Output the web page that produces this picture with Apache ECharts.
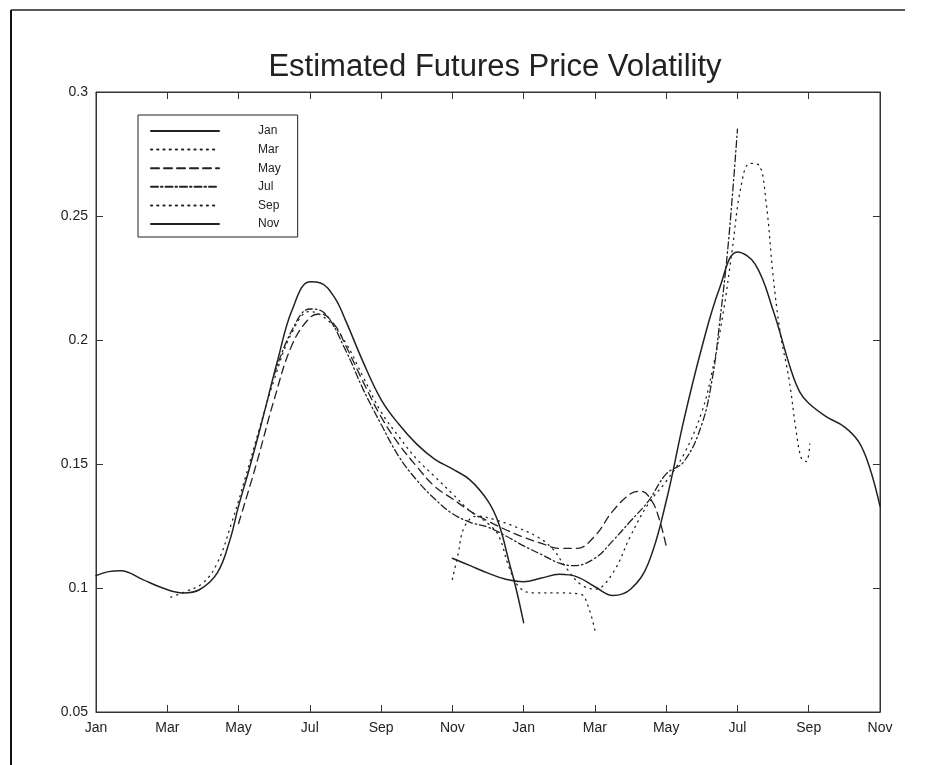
<!DOCTYPE html>
<html>
<head>
<meta charset="utf-8">
<script src="https://cdn.jsdelivr.net/npm/echarts@6/dist/echarts.min.js"></script>
<style>
  html, body { margin: 0; padding: 0; background: #fff; }
  #chart { width: 930px; height: 765px; }
</style>
</head>
<body>
<div id="chart"></div>
<script>
// x = months from the first January, y = estimated volatility
const monthLabels = ['Jan', 'Mar', 'May', 'Jul', 'Sep', 'Nov', 'Jan', 'Mar', 'May', 'Jul', 'Sep', 'Nov']
const contractNames = ['Jan', 'Mar', 'May', 'Jul', 'Sep', 'Nov']

const janVol = [
  [0, 0.105], [0.35, 0.1066], [0.7, 0.107], [1.3, 0.1035], [1.8, 0.1004], [2.45, 0.098],
  [2.9, 0.0993], [3.4, 0.106], [3.75, 0.119], [4, 0.133], [4.3, 0.148], [4.6, 0.164],
  [4.85, 0.178], [5.1, 0.192], [5.5, 0.212], [6, 0.2235], [6.3, 0.223], [6.7, 0.217],
  [7, 0.208], [7.5, 0.191], [8, 0.176], [8.5, 0.166], [9, 0.158], [9.5, 0.152],
  [10, 0.148], [10.5, 0.1435], [11, 0.135], [11.3, 0.126], [11.6, 0.11], [11.8, 0.099], [12, 0.086]
]
const marVol = [
  [2.1, 0.0963], [2.5, 0.0985], [3, 0.102], [3.4, 0.11], [3.8, 0.126], [4.2, 0.145],
  [4.6, 0.165], [5, 0.184], [5.5, 0.203], [6, 0.2115], [6.5, 0.208], [7, 0.199],
  [7.5, 0.185], [8, 0.171], [8.5, 0.161], [9, 0.152], [9.5, 0.145], [10, 0.138],
  [10.5, 0.131], [11, 0.126], [11.3, 0.121], [11.6, 0.108], [11.9, 0.1], [12.3, 0.098],
  [13, 0.098], [13.6, 0.0975], [13.8, 0.093], [14, 0.083]
]
const mayVol = [
  [4, 0.126], [4.5, 0.15], [5, 0.176], [5.5, 0.198], [6, 0.209], [6.3, 0.2105],
  [6.7, 0.206], [7, 0.198], [7.5, 0.183], [8, 0.169], [8.5, 0.158], [9, 0.149],
  [9.5, 0.141], [10, 0.136], [10.5, 0.131], [11, 0.127], [11.5, 0.1235], [12, 0.1205],
  [12.5, 0.118], [13, 0.116], [13.5, 0.116], [14, 0.121], [14.5, 0.131], [15, 0.138],
  [15.3, 0.139], [15.6, 0.135], [15.8, 0.128], [16, 0.117]
]
const julVol = [
  [5, 0.186], [5.5, 0.204], [6, 0.2125], [6.4, 0.211], [7, 0.196], [7.5, 0.18],
  [8, 0.166], [8.5, 0.153], [9, 0.1435], [9.5, 0.136], [10, 0.13], [10.5, 0.1265],
  [11, 0.1245], [11.5, 0.121], [12, 0.117], [12.5, 0.1135], [13, 0.11], [13.4, 0.109],
  [14, 0.112], [14.5, 0.119], [15, 0.127], [15.5, 0.135], [16, 0.146], [16.5, 0.151],
  [17, 0.166], [17.3, 0.185], [17.5, 0.207], [17.75, 0.24], [18, 0.285]
]
const sepVol = [
  [10, 0.1035], [10.15, 0.113], [10.35, 0.125], [10.7, 0.129], [11.2, 0.1275], [11.8, 0.1245],
  [12.4, 0.1205], [12.8, 0.116], [13.2, 0.108], [13.6, 0.1015], [14, 0.0995], [14.5, 0.106],
  [15, 0.121], [15.5, 0.134], [16, 0.143], [16.5, 0.154], [17, 0.171], [17.3, 0.188],
  [17.6, 0.211], [17.85, 0.236], [18.1, 0.262], [18.35, 0.2712], [18.6, 0.2705], [18.8, 0.256],
  [19, 0.226], [19.2, 0.203], [19.45, 0.184], [19.65, 0.163], [19.8, 0.152], [19.93, 0.151], [20.03, 0.158]
]
const novVol = [
  [10, 0.112], [10.5, 0.109], [11, 0.106], [11.5, 0.1035], [12, 0.1025], [12.5, 0.104],
  [13, 0.1055], [13.5, 0.1045], [14, 0.1005], [14.5, 0.097], [15, 0.0995], [15.5, 0.11],
  [16, 0.135], [16.5, 0.168], [17, 0.197], [17.5, 0.221], [18, 0.2355], [18.5, 0.2305],
  [19, 0.212], [19.5, 0.188], [19.75, 0.179], [20, 0.1745], [20.5, 0.169], [21, 0.165],
  [21.4, 0.159], [21.7, 0.149], [22, 0.133]
]

const seriesData = [janVol, marVol, mayVol, julVol, sepVol, novVol]
// line patterns like the old matlab print
const dashes = ['solid', [1.2, 5], [8, 5], [7, 3, 1.5, 3], [1.2, 5], 'solid']

const chart = echarts.init(document.getElementById('chart'))
const fontFam = '"Liberation Sans", Arial, Helvetica, sans-serif'

function axisBase(pos) {
  return {
    type: 'value',
    position: pos,
    axisLine: { show: true, onZero: false, lineStyle: { color: '#333' } },
    axisTick: { show: true, inside: true, length: 7, lineStyle: { color: '#333' } },
    splitLine: { show: false }
  }
}

const option = {
  backgroundColor: '#fff',
  animation: false,
  title: {
    text: 'Estimated Futures Price Volatility',
    left: 490,
    textAlign: 'center',
    top: 47,
    textStyle: { fontFamily: fontFam, fontSize: 31, fontWeight: 'normal', color: '#222' }
  },
  legend: {
    left: 138,
    top: 115,
    orient: 'vertical',
    itemWidth: 68,
    itemHeight: 14,
    itemGap: 6.6,
    padding: [10, 17, 7, 12],
    borderColor: '#222',
    borderWidth: 1,
    itemStyle: { opacity: 0 },
    data: contractNames,
    textStyle: { fontFamily: fontFam, fontSize: 12, color: '#222', padding: [0, 0, 0, 34] }
  },
  grid: {
    left: 96, right: 50, top: 92, bottom: 53,
    show: true, borderColor: '#333', borderWidth: 1
  },
  xAxis: [
    Object.assign(axisBase('bottom'), {
      min: 0, max: 22, interval: 2,
      axisLabel: {
        fontFamily: fontFam, fontSize: 14, color: '#222', margin: 9,
        formatter: v => monthLabels[Math.round(v / 2)]
      }
    }),
    Object.assign(axisBase('top'), {
      min: 0, max: 22, interval: 2,
      axisLabel: { show: false }
    })
  ],
  yAxis: [
    Object.assign(axisBase('left'), {
      min: 0.05, max: 0.3, interval: 0.05,
      axisLabel: { fontFamily: fontFam, fontSize: 14, color: '#222', margin: 8 }
    }),
    Object.assign(axisBase('right'), {
      min: 0.05, max: 0.3, interval: 0.05,
      axisLabel: { show: false }
    })
  ],
  series: contractNames.map((name, i) => ({
    name: name,
    type: 'line',
    data: seriesData[i],
    xAxisIndex: 0,
    yAxisIndex: 0,
    symbol: 'none',
    smooth: 0.4,
    itemStyle: { color: '#222' },
    lineStyle: {
      color: '#222',
      width: dashes[i] === 'solid' ? 1.5 : 1.3,
      type: dashes[i],
      cap: 'round'
    }
  })),
  // edges of the scanned page
  graphic: [
    { type: 'line', shape: { x1: 11, y1: 10, x2: 11, y2: 765 }, style: { stroke: '#111', lineWidth: 2 } },
    { type: 'line', shape: { x1: 11, y1: 10, x2: 905, y2: 10 }, style: { stroke: '#222', lineWidth: 1.5 } }
  ]
}

chart.setOption(option)
</script>
</body>
</html>
